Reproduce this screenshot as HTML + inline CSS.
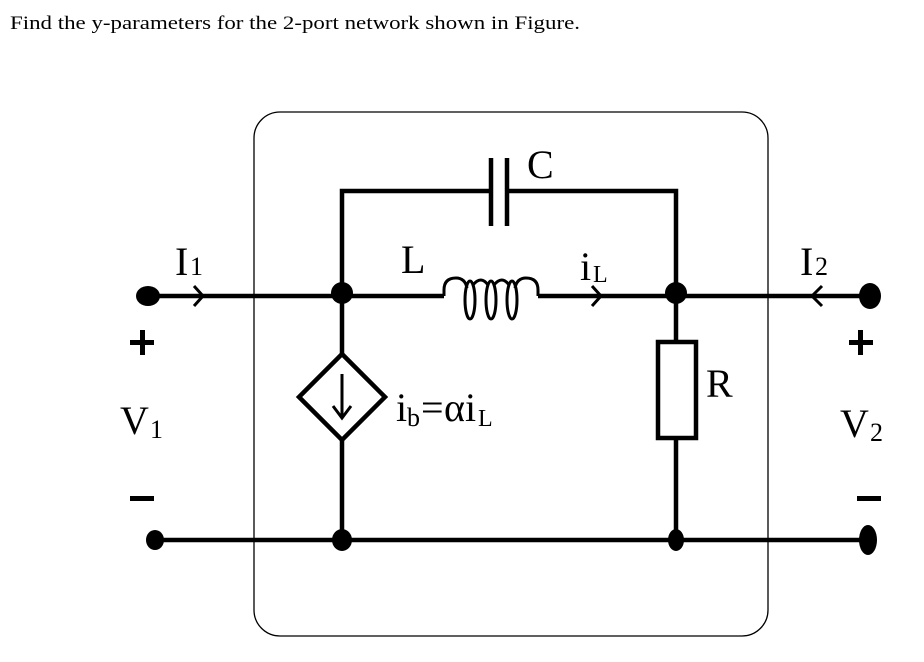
<!DOCTYPE html>
<html><head><style>
body{margin:0;background:#fff;width:924px;height:662px;overflow:hidden}
</style></head><body>
<svg width="924" height="662" xmlns="http://www.w3.org/2000/svg" style="position:absolute;left:0;top:0">
<text x="10" y="29" font-family="Liberation Serif, serif" font-size="19" textLength="570" lengthAdjust="spacingAndGlyphs">Find the y-parameters for the 2-port network shown in Figure.</text>
<rect x="254" y="112" width="514" height="524" rx="26" fill="none" stroke="#000" stroke-width="1.3"/>
<g stroke="#000" stroke-width="4.5" fill="none">
<line x1="150" y1="296" x2="444" y2="296"/>
<line x1="538" y1="296" x2="870" y2="296"/>
<g stroke-width="3">
<path d="M444 296 v-6 q0-12 12-12 q9 0 11 10"/>
<path d="M538 296 v-6 q0-12 -12-12 q-9 0 -11 10"/>
<ellipse cx="470" cy="300" rx="5" ry="19"/><ellipse cx="491" cy="300" rx="5" ry="19"/><ellipse cx="512" cy="300" rx="5" ry="19"/>
<path d="M473 285 q8-10 15 0 M494 285 q8-10 15 0"/>
</g>
<polyline points="342,296 342,191 491,191"/>
<polyline points="507,191 676,191 676,296"/>
<line x1="491" y1="158" x2="491" y2="226"/>
<line x1="507" y1="158" x2="507" y2="226"/>
<line x1="342" y1="296" x2="342" y2="354"/>
<polygon points="342,354 385,397 342,440 299,397"/>
<line x1="342" y1="440" x2="342" y2="540"/>
<line x1="342" y1="374" x2="342" y2="418" stroke-width="3"/>
<polyline points="333,406 342,418 351,406" stroke-width="3"/>
<line x1="676" y1="296" x2="676" y2="342"/>
<rect x="658" y="342" width="38" height="96"/>
<line x1="676" y1="438" x2="676" y2="540"/>
<line x1="150" y1="540" x2="870" y2="540"/>
<polyline points="194,286 203,296 194,306" stroke-width="3"/>
<polyline points="592,286 601,296 592,306" stroke-width="3"/>
<polyline points="822,286 812,296 822,306" stroke-width="3"/>
</g>
<g fill="#000">
<ellipse cx="148" cy="296" rx="12" ry="10"/>
<ellipse cx="870" cy="296" rx="11" ry="13"/>
<circle cx="342" cy="293" r="11"/>
<circle cx="676" cy="293" r="11"/>
<ellipse cx="155" cy="540" rx="9" ry="10"/>
<ellipse cx="342" cy="540" rx="10" ry="11"/>
<ellipse cx="676" cy="540" rx="8" ry="11"/>
<ellipse cx="868" cy="540" rx="9" ry="15"/>
<rect x="130" y="340" width="24" height="5"/><rect x="140" y="330" width="5" height="25"/>
<rect x="130" y="496" width="24" height="5"/>
<rect x="849" y="340" width="24" height="5"/><rect x="858" y="330" width="5" height="25"/>
<rect x="857" y="496" width="24" height="5"/>
</g>
<g font-family="Liberation Serif, serif" fill="#000">
<text x="175" y="275" font-size="40">I</text><text x="190" y="275" font-size="26">1</text>
<text x="401" y="273" font-size="40">L</text>
<text x="527" y="178" font-size="40">C</text>
<text x="580" y="280" font-size="40">i</text><text x="593" y="282" font-size="24">L</text>
<text x="800" y="275" font-size="40">I</text><text x="815" y="275" font-size="26">2</text>
<text x="706" y="397" font-size="40">R</text>
<text x="396" y="421" font-size="40">i</text><text x="407" y="426" font-size="26">b</text><text x="421" y="421" font-size="40">=</text><text x="444" y="421" font-size="40">αi</text><text x="478" y="426" font-size="24">L</text>
<text x="120" y="434" font-size="40">V</text><text x="150" y="438" font-size="26">1</text>
<text x="840" y="437" font-size="40">V</text><text x="870" y="441" font-size="26">2</text>
</g>
</svg>
</body></html>
